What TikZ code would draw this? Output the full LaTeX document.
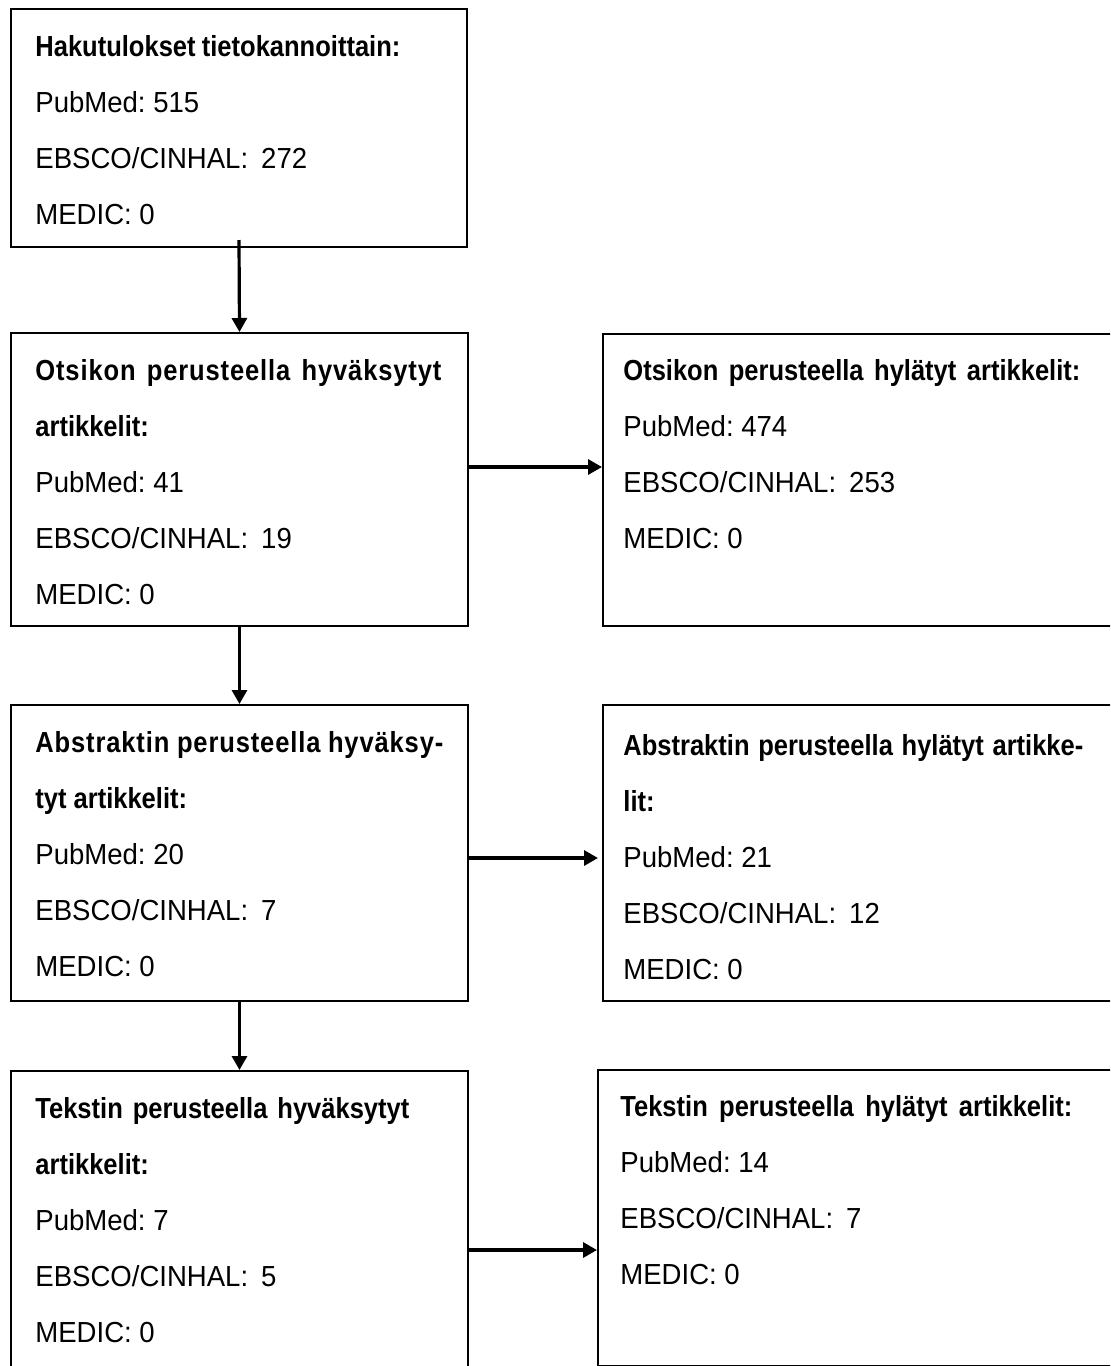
\documentclass[tikz,border=0pt]{standalone}
\usepackage{fontspec}
\setmainfont{Liberation Sans}[FakeStretch=0.95,BoldFeatures={FakeStretch=0.88}]
\usetikzlibrary{arrows.meta,calc}
\newcommand{\jline}[2]{\makebox[#1][s]{\textbf{#2}}}
\newcommand{\sjline}[2]{\makebox[#1][s]{\bfseries\addfontfeature{LetterSpace=3}#2}}
\newcommand{\ebsco}[1]{EBSCO/CINHAL:\hspace{0.45em}#1}
\begin{document}
\begin{tikzpicture}[x=0.5pt,y=-0.5pt,
  box/.style={draw, line width=1pt, inner sep=0pt, anchor=north west},
  rbox/.style={box, line width=0.8pt},
  txt/.style={anchor=base west, inner sep=0pt, font=\fontsize{14.5}{28}\selectfont\frenchspacing},
  arr/.style={line width=1.6pt, -{Triangle[width=7.5pt,length=7pt]}}]
\useasboundingbox (0,0) rectangle (1110,1366);
\clip (0,0) rectangle (1110,1366);
% boxes
\node[box, minimum width=228pt, minimum height=119pt] (b1) at (10,8) {};
\node[box, minimum width=228.5pt, minimum height=146.5pt] (b2L) at (10,332) {};
\node[rbox, minimum width=260pt, minimum height=146pt] (b2R) at (602,333) {};
\node[box, minimum width=228.5pt, minimum height=148pt] (b3L) at (10,704) {};
\node[rbox, minimum width=260pt, minimum height=148pt] (b3R) at (602,704) {};
\node[box, minimum width=228.5pt, minimum height=160pt] (b4L) at (10,1070) {};
\node[rbox, minimum width=262pt, minimum height=148pt] (b4R) at (597,1069) {};
% texts
\node[txt] (t1) at (35,56) {\parbox[t]{260pt}{\raggedright\jline{182.5pt}{Hakutulokset tietokannoittain:}\\PubMed: 515\\\ebsco{272}\\MEDIC: 0}};
\node[txt] (t2L) at (35,380) {\parbox[t]{260pt}{\raggedright\sjline{203pt}{Otsikon perusteella hyväksytyt}\\\textbf{artikkelit:}\\PubMed: 41\\\ebsco{19}\\MEDIC: 0}};
\node[txt] (t2R) at (623,380) {\parbox[t]{260pt}{\raggedright\jline{228.5pt}{Otsikon perusteella hylätyt artikkelit:}\\PubMed: 474\\\ebsco{253}\\MEDIC: 0}};
\node[txt] (t3L) at (35,752) {\parbox[t]{260pt}{\raggedright\sjline{204pt}{Abstraktin perusteella hyväksy-}\\\textbf{tyt artikkelit:}\\PubMed: 20\\\ebsco{7}\\MEDIC: 0}};
\node[txt] (t3R) at (623,755) {\parbox[t]{260pt}{\raggedright\jline{230pt}{Abstraktin perusteella hylätyt artikke-}\\\textbf{lit:}\\PubMed: 21\\\ebsco{12}\\MEDIC: 0}};
\node[txt] (t4L) at (35,1118) {\parbox[t]{260pt}{\raggedright\jline{187pt}{Tekstin perusteella hyväksytyt}\\\textbf{artikkelit:}\\PubMed: 7\\\ebsco{5}\\MEDIC: 0}};
\node[txt] (t4R) at (620,1116) {\parbox[t]{260pt}{\raggedright\jline{226pt}{Tekstin perusteella hylätyt artikkelit:}\\PubMed: 14\\\ebsco{7}\\MEDIC: 0}};
% arrows
\draw[arr] ([yshift=4pt]b1.south) -- (b2L.north);
\draw[arr] (b2L.south) -- (b3L.north);
\draw[arr] (b3L.south) -- (b4L.north);
\draw[arr] (b2L.east |- 0,467) -- (b2R.west |- 0,467);
\draw[arr] (b3L.east |- 0,858) -- ([xshift=-2pt]b3R.west |- 0,858);
\draw[arr] (b4L.east |- 0,1250) -- (b4R.west |- 0,1250);
\end{tikzpicture}
\end{document}
